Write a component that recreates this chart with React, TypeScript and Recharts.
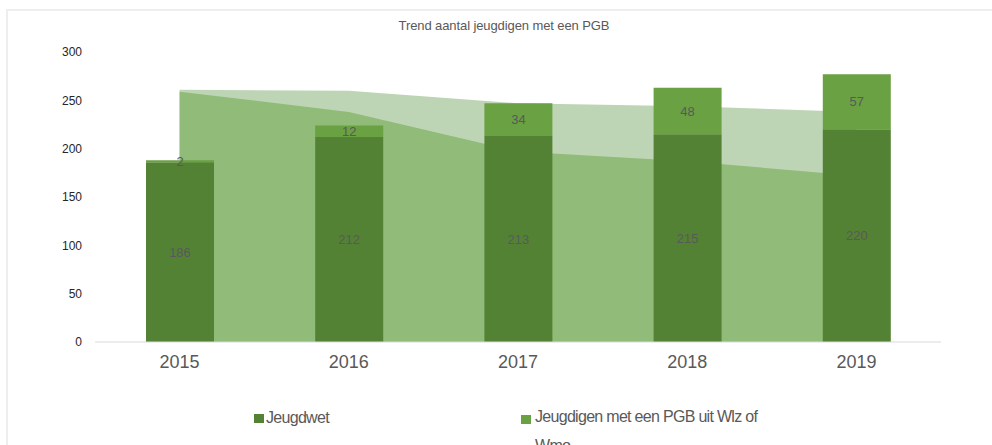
import React from 'react';
import { ComposedChart, Bar, Area, XAxis, YAxis, LabelList } from 'recharts';

const years = ['2015', '2016', '2017', '2018', '2019'];
const jeugdwet = [186, 212, 213, 215, 220];
const wlzWmo = [2, 12, 34, 48, 57];
const trendTotaal = [261, 260, 247, 244, 238];
const trendJeugdwet = [259, 238, 197, 187, 172];
const yTicks = [0, 50, 100, 150, 200, 250, 300];

const data = years.map((year, i) => ({
    year,
    jeugdwet: jeugdwet[i],
    wlzWmo: wlzWmo[i],
    trendTotaal: trendTotaal[i],
    trendJeugdwet: trendJeugdwet[i],
}));

const font = '"Liberation Sans", Arial, sans-serif';

const App = () => {
    return (
        <div style={{ position: 'absolute', left: 0, top: 0, width: 992, height: 445, overflow: 'hidden', background: '#fff', fontFamily: font }}>
            {/* frame */}
            <div style={{ position: 'absolute', left: 6, top: 9, width: 1100, height: 600, borderTop: '2px solid #eeeeee', borderLeft: '2px solid #eeeeee' }} />
            <div style={{ position: 'absolute', left: 4, top: 18, width: 1000, textAlign: 'center', fontSize: 13, color: '#595959', letterSpacing: -0.1 }}>
                Trend aantal jeugdigen met een PGB
            </div>
            <div style={{ position: 'absolute', left: 0, top: 0 }}>
                <ComposedChart width={992} height={445} data={data} margin={{ top: 52, right: 51, left: 0, bottom: 0 }}>
                    <XAxis
                        dataKey="year"
                        height={103}
                        tickLine={false}
                        tickSize={0}
                        tickMargin={13}
                        stroke="#d9d9d9"
                        tick={{ fill: '#595959', fontSize: 18, fontFamily: font }}
                    />
                    <YAxis
                        width={95}
                        domain={[0, 300]}
                        ticks={yTicks}
                        axisLine={false}
                        tickLine={false}
                        tickSize={0}
                        tickMargin={13}
                        tick={{ fill: '#262626', fontSize: 12, fontFamily: font }}
                    />
                    <Area type="linear" dataKey="trendTotaal" fill="#bdd5b5" fillOpacity={1} stroke="none" isAnimationActive={false} />
                    <Area type="linear" dataKey="trendJeugdwet" fill="#90bb78" fillOpacity={1} stroke="none" isAnimationActive={false} />
                    <Bar dataKey="jeugdwet" stackId="a" barSize={68} fill="#548235" isAnimationActive={false}>
                        <LabelList dataKey="jeugdwet" position="center" fill="#595959" fontSize={13} fontFamily={font} />
                    </Bar>
                    <Bar dataKey="wlzWmo" stackId="a" barSize={68} fill="#6aa142" isAnimationActive={false}>
                        <LabelList dataKey="wlzWmo" position="center" fill="#595959" fontSize={13} fontFamily={font} />
                    </Bar>
                </ComposedChart>
            </div>
            {/* legend */}
            <div style={{ position: 'absolute', left: 254, top: 414, width: 10, height: 9, background: '#548235' }} />
            <div style={{ position: 'absolute', left: 266, top: 403, fontSize: 16, color: '#595959', letterSpacing: -0.7, lineHeight: '29px' }}>
                Jeugdwet
            </div>
            <div style={{ position: 'absolute', left: 521, top: 415, width: 10, height: 9, background: '#6aa142' }} />
            <div style={{ position: 'absolute', left: 535, top: 402, width: 245, fontSize: 16, color: '#595959', letterSpacing: -0.7, lineHeight: '29px' }}>
                Jeugdigen met een PGB uit Wlz of Wmo
            </div>
        </div>
    );
};

export default App;
